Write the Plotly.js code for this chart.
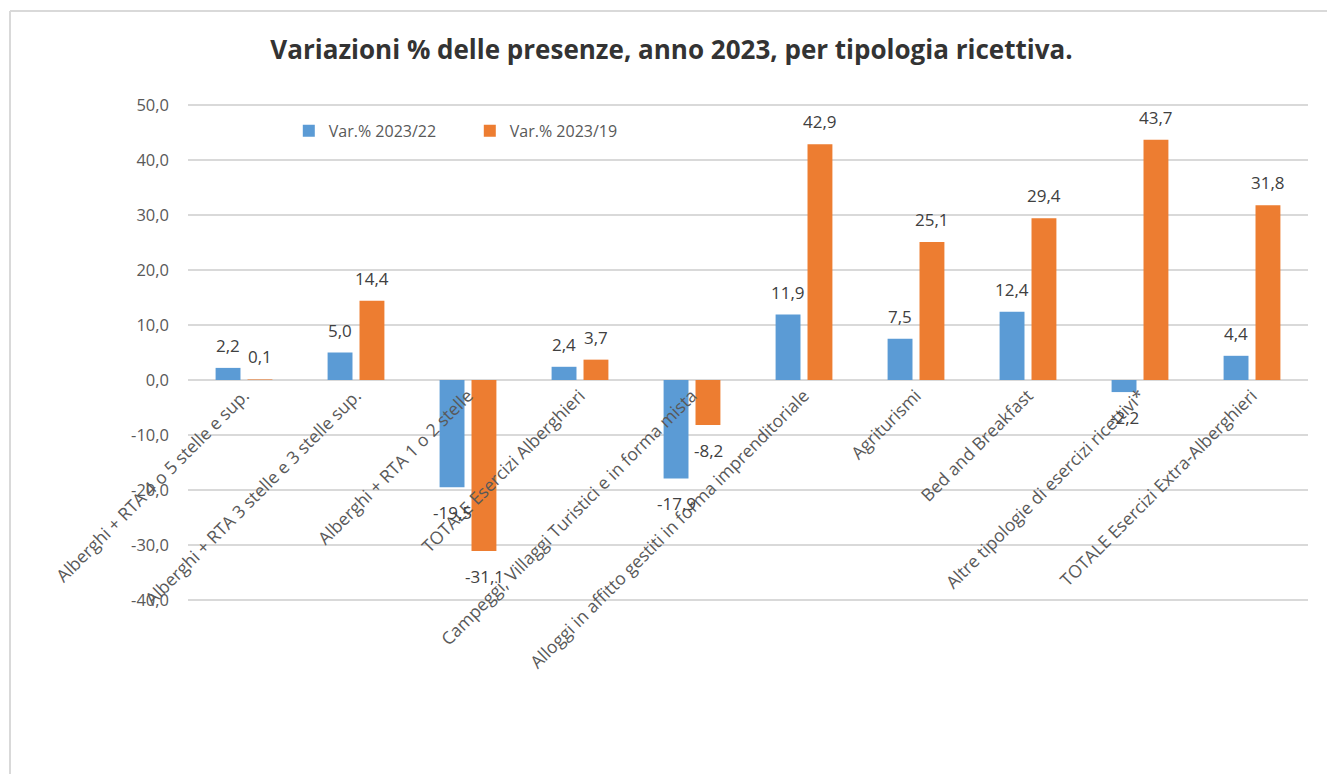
<!DOCTYPE html>
<html>
<head>
<meta charset="utf-8">
<script src="https://cdn.plot.ly/plotly-3.0.1.min.js"></script>
<style>html,body{margin:0;padding:0;background:#fff;}#chart{width:1327px;height:774px;}</style>
</head>
<body>
<div id="chart"></div>
<script>
const categories = [
  "Alberghi + RTA 4 o 5 stelle e sup.",
  "Alberghi + RTA 3 stelle e 3 stelle sup.",
  "Alberghi + RTA 1 o 2 stelle",
  "TOTALE Esercizi Alberghieri",
  "Campeggi, Villaggi Turistici e in forma mista",
  "Alloggi in affitto gestiti in forma imprenditoriale",
  "Agriturismi",
  "Bed and Breakfast",
  "Altre tipologie di esercizi ricettivi*",
  "TOTALE Esercizi Extra-Alberghieri"
];
const var2322 = [2.2, 5.0, -19.5, 2.4, -17.9, 11.9, 7.5, 12.4, -2.2, 4.4];
const var2319 = [0.1, 14.4, -31.1, 3.7, -8.2, 42.9, 25.1, 29.4, 43.7, 31.8];
const seriesNames = ["Var.% 2023/22", "Var.% 2023/19"];
const yTicks = [-40, -30, -20, -10, 0, 10, 20, 30, 40, 50];

const fmt = v => v.toFixed(1).replace(".", ",");
const font = "Open Sans, Liberation Sans, sans-serif";
const labelColor = "#404040";

const traces = [
  {type: "bar", name: seriesNames[0], x: categories, y: var2322,
   marker: {color: "#5B9BD5"}, hoverinfo: "skip"},
  {type: "bar", name: seriesNames[1], x: categories, y: var2319,
   marker: {color: "#ED7D31"}, hoverinfo: "skip"}
];

// data labels placed through the axes scales (x = category, y = value)
const annotations = [];
[[var2322, -16], [var2319, 16]].forEach(([vals, dx]) => {
  vals.forEach((v, j) => {
    annotations.push({
      x: categories[j], y: v, xref: "x", yref: "y",
      text: fmt(v), showarrow: false,
      xshift: dx, xanchor: "center",
      yanchor: v >= 0 ? "bottom" : "top", yshift: v >= 0 ? 9 : -12,
      font: {family: font, size: 17, color: labelColor}
    });
  });
});

const layout = {
  width: 1327, height: 774,
  margin: {l: 188, r: 19, t: 104, b: 173},
  paper_bgcolor: "#fff", plot_bgcolor: "#fff",
  barmode: "group", bargap: 0.43, bargroupgap: 0.22,
  font: {family: font, color: "#595959"},
  title: {text: "Variazioni % delle presenze, anno 2023, per tipologia ricettiva.",
          font: {family: font, size: 26, color: "#333333", weight: "bold"},
          x: 0.506, xref: "container", xanchor: "center", y: 0.935, yref: "container", yanchor: "middle"},
  xaxis: {type: "category", anchor: "free", position: 40/90.4, tickangle: -45,
          showgrid: false, showline: false, zeroline: false, ticks: "",
          tickfont: {family: font, size: 17.5, color: "#595959"}, automargin: false},
  yaxis: {range: [-40.2, 50.2], tickvals: yTicks, ticktext: yTicks.map(fmt),
          showgrid: true, gridcolor: "#d9d9d9", gridwidth: 1.5,
          zeroline: true, zerolinecolor: "#d9d9d9", zerolinewidth: 1.5,
          showline: false, ticks: "", ticklabelstandoff: 18,
          tickfont: {family: font, size: 16.5, color: "#595959"}, automargin: false},
  legend: {orientation: "h", x: 0.09, y: 0.946, xanchor: "left", yanchor: "middle",
           font: {family: font, size: 16, color: "#595959"}, bgcolor: "rgba(0,0,0,0)",
           itemwidth: 30, entrywidth: 136, entrywidthmode: "pixels", traceorder: "normal"},
  annotations: annotations,
  shapes: [
    {type: "line", xref: "paper", yref: "paper", x0: (10-188)/1120, x1: (1330-188)/1120,
     y0: (601-11)/497, y1: (601-11)/497, line: {color: "#d9d9d9", width: 2}},
    {type: "line", xref: "paper", yref: "paper", x0: (10-188)/1120, x1: (10-188)/1120,
     y0: (601-11)/497, y1: (601-780)/497, line: {color: "#d9d9d9", width: 2}}
  ],
  showlegend: true
};

Plotly.newPlot("chart", traces, layout, {displayModeBar: false, staticPlot: true});
</script>
</body>
</html>
